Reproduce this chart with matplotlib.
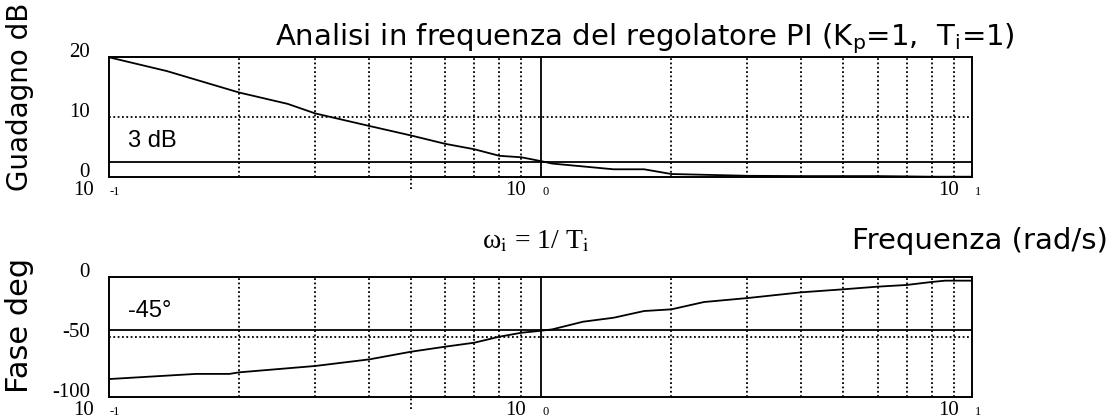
import matplotlib
matplotlib.use("Agg")
import matplotlib.pyplot as plt
import matplotlib.transforms as mtransforms

# ---- data ----
gain_freq = [0.1, 0.136, 0.2, 0.259, 0.3, 0.4, 0.5, 0.6, 0.7, 0.8, 0.9, 1.0,
             1.06, 1.47, 1.73, 2.0, 3.0, 4.0, 5.0, 6.0, 7.0, 8.0, 9.9]
gain_db = [20.0, 17.7, 14.1, 12.2, 10.6, 8.5, 6.9, 5.5, 4.6, 3.5, 3.25, 2.6,
           2.2, 1.24, 1.24, 0.45, 0.15, 0.1, 0.1, 0.1, 0.05, 0.0, 0.0]

phase_freq = [0.1, 0.159, 0.19, 0.2, 0.3, 0.4, 0.5, 0.6, 0.7, 0.8, 0.9, 1.0,
              1.06, 1.25, 1.47, 1.73, 2.0, 2.38, 3.0, 4.0, 5.0, 6.0, 7.0, 8.0,
              8.6, 9.9]
phase_deg = [-85.3, -81.0, -81.0, -79.7, -74.4, -68.9, -62.5, -58.3, -55.0,
             -50.0, -46.7, -45.0, -43.9, -37.5, -34.2, -28.6, -27.2, -21.1,
             -17.8, -13.0, -10.5, -8.3, -6.9, -4.4, -3.3, -3.3]

gain_ticks = [0, 10, 20]
phase_ticks = [-100, -50, 0]
decade_exps = [-1, 0, 1]
grid_mult = [2, 3, 4, 5, 6, 7, 8, 9]
ref_gain = 2.5      # "3 dB" reference line
ref_phase = -44.5   # "-45°" reference line
w_i = 1.0

title_txt = "Analisi in frequenza del regolatore PI (K$_\\mathrm{p}$=1,  T$_\\mathrm{i}$=1)"

W, H = 1118, 418
fig = plt.figure(figsize=(W / 100, H / 100), dpi=100)
fig.patch.set_facecolor("white")

def px_axes(left, top, right, bottom):
    return fig.add_axes([left / W, 1 - bottom / H, (right - left) / W, (bottom - top) / H])

ax1 = px_axes(109, 57.3, 971.6, 176.7)
ax2 = px_axes(109, 276.7, 971.6, 396.7)

serif = "Liberation Serif"
sans_title = "DejaVu Sans"
arial = "Liberation Sans"

def setup(ax, ylim, yticks, hgrid, refval, reflabel, lab_dy, xdata, ydata):
    ax.set_xscale("log")
    ax.set_xlim(0.1, 9.9)
    ax.set_ylim(*ylim)
    ax.set_xticks([]); ax.set_yticks([])
    ax.minorticks_off()
    for s in ax.spines.values():
        s.set_linewidth(1.4)
        s.set_color("black")
    # dotted grid
    for e in decade_exps[:-1]:
        for m in grid_mult:
            v = m * 10.0 ** e
            if v < 9.9:
                ax.axvline(v, color="black", lw=1.3, ls=(0, (1.0, 1.4)), zorder=1)
    ax.axhline(hgrid, color="black", lw=1.3, ls=(0, (1.0, 1.4)), zorder=1)
    # extended dotted stub at 5*10^-1
    ax.axvline(0.5, ymin=-0.1, ymax=0.0, color="black", lw=1.3,
               ls=(0, (1.0, 1.4)), clip_on=False, zorder=1)
    # solid lines
    ax.axvline(w_i, color="black", lw=1.3, zorder=2)
    ax.axhline(refval, color="black", lw=1.3, zorder=2)
    ax.plot(xdata, ydata, color="black", lw=1.3, zorder=3)
    # y tick labels
    ytr = mtransforms.blended_transform_factory(ax.transAxes, ax.transData)
    oy = mtransforms.offset_copy(ytr, fig=fig, x=-19, y=0, units="dots")
    for t in yticks:
        ax.text(0, t, str(t), transform=oy, ha="right", va="baseline",
                fontsize=15, family=serif)
    # x tick labels
    xtr = mtransforms.blended_transform_factory(ax.transData, ax.transAxes)
    for e in decade_exps:
        v = 10.0 ** e
        o1 = mtransforms.offset_copy(xtr, fig=fig, x=-15, y=-4, units="dots")
        ax.text(v, 0, "10", transform=o1, ha="right", va="top",
                fontsize=15, family=serif, clip_on=False)
        o2 = mtransforms.offset_copy(xtr, fig=fig, x=1, y=-9, units="dots")
        ax.text(v, 0, str(e), transform=o2, ha="left", va="top",
                fontsize=9, family=serif, clip_on=False)
    ax.text(0.022, refval + lab_dy, reflabel, transform=ytr, ha="left",
            va="bottom", fontsize=17, family=arial)

setup(ax1, (0, 20), gain_ticks, 10, ref_gain, "3 dB", 1.7, gain_freq, gain_db)
setup(ax2, (-100, 0), phase_ticks, -50, ref_phase, "-45°", 6.5, phase_freq, phase_deg)

fig.text(1015 / W, 1 - 45 / H, title_txt, ha="right", va="baseline",
         fontsize=21, family=sans_title, math_fontfamily="dejavusans")
fig.text(20 / W, 1 - 97 / H, "Guadagno dB", rotation=90, ha="center", va="center",
         fontsize=20, family=sans_title)
fig.text(20 / W, 1 - 325 / H, "Fase deg", rotation=90, ha="center", va="center",
         fontsize=22, family=sans_title)
fig.text(1108 / W, 1 - 249 / H, "Frequenza (rad/s)", ha="right", va="baseline",
         fontsize=21, family=sans_title)
fig.text(482 / W, 1 - 248 / H, "ω$_\\mathrm{i}$ = 1/ T$_\\mathrm{i}$", ha="left",
         va="baseline", fontsize=20, family=serif, math_fontfamily="stix")

fig.savefig("out.png", dpi=100, facecolor="white")
